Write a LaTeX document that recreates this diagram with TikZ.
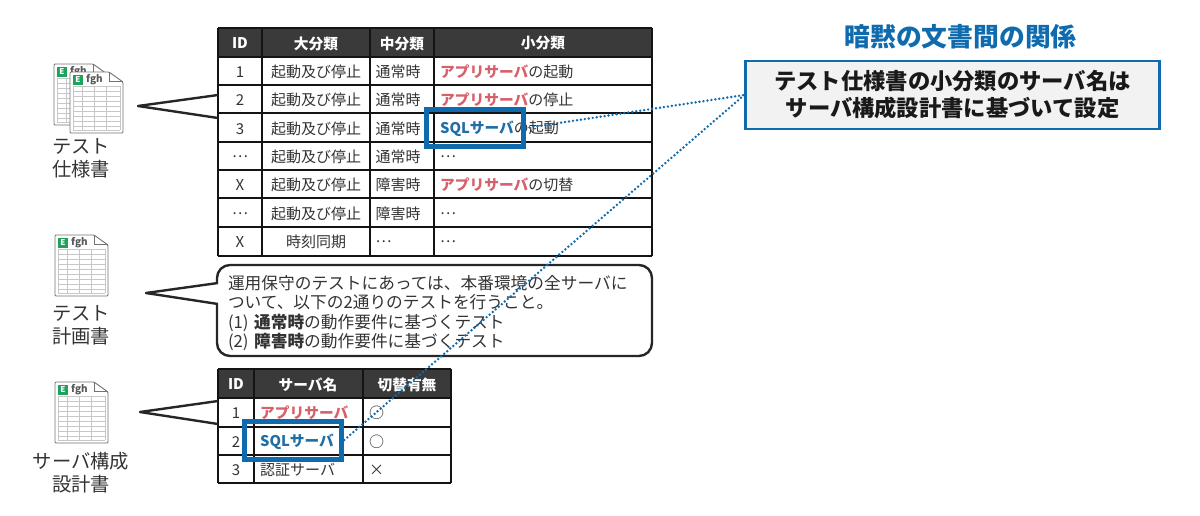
\documentclass[tikz,border=0pt]{standalone}
\usepackage{fontspec}
\setmainfont{Noto Sans CJK JP}
\usepackage{tikz}
\usetikzlibrary{positioning, calc}
\definecolor{inkdark}{HTML}{333333}
\definecolor{headdark}{HTML}{3A3A3A}
\definecolor{linkblue}{HTML}{0F6BAE}
\definecolor{sqlblue}{HTML}{1F6FA6}
\definecolor{appred}{HTML}{D8606A}
\definecolor{sheetgreen}{HTML}{1FA35C}
\definecolor{notegray}{HTML}{F2F2F2}
\newcommand{\appsrv}{{\fontsize{14.7}{15}\selectfont\bfseries\color{appred}アプリサーバ}}
\newcommand{\sqlsrv}{{\fontsize{14.7}{15}\selectfont\bfseries\color{sqlblue}SQLサーバ}}
\tikzset{
    sheetgrid/.style={draw=black!22, line width=0.5pt},
    sheetedge/.style={draw=black!55, line width=0.9pt, rounded corners=1pt, fill=white},
    sheeticon/.pic={
        \draw[sheetedge] (0,0) -- (39,0) -- (53,10) -- (53,61) -- (0,61) -- cycle;
        \draw[draw=black!55, line width=0.8pt] (39,0) -- (39,9) -- (53,9);
        \node[fill=sheetgreen, text=white, inner sep=0pt, minimum size=10pt, font=\fontsize{8}{8}\selectfont\bfseries] (-mark) at (8,8) {E};
        \node[text=black!65, inner sep=0pt, anchor=west, font=\fontsize{10}{10}\selectfont\bfseries] (-title) at (16,7.5) {fgh};
        \foreach \gridy in {14,19,24,29,34,39,44,49,54,58}
            \draw[sheetgrid] (3,\gridy) -- (50,\gridy);
        \foreach \gridx in {3,12,24,36,50}
            \draw[sheetgrid] (\gridx,14) -- (\gridx,58);
    },
    doclabel/.style={text=inkdark, align=center, font=\fontsize{19.3}{22.8}\selectfont},
    headcell/.style={text=white, inner sep=0pt, yshift=-0.5pt, font=\fontsize{14.7}{15}\selectfont\bfseries},
    bodycell/.style={text=inkdark, inner sep=0pt, yshift=-1pt, font=\fontsize{15}{15}\selectfont},
    leftcell/.style={bodycell, anchor=west},
    tablerule/.style={draw=black!92, line width=1.5pt},
    tailline/.style={draw=black!85, line width=2.4pt, line join=round},
    pickbox/.style={draw=linkblue, line width=5pt, inner sep=0pt},
    linkdots/.style={draw=linkblue, line width=2.7pt, line cap=round, dash pattern=on 0pt off 4pt},
}
\begin{document}
\begin{tikzpicture}[x=1pt, y=-1pt]
    \useasboundingbox (0,0) rectangle (1200,515);

    % document icons
    \pic (specback) at (54,64) {sheeticon};
    \pic (specfront) at (70,72) {sheeticon};
    \pic (planicon) at (55,235) {sheeticon};
    \pic (srvicon) at (55,382) {sheeticon};
    \node[doclabel] (speclabel) at (81,158) {テスト\\仕様書};
    \node[doclabel] (planlabel) at (81,325.5) {テスト\\計画書};
    \node[doclabel] (srvlabel) at (81,472.5) {サーバ構成\\設計書};

    % test spec table
    \fill[headdark] (218,28) rectangle (652,57);
    \foreach \ruley in {28,57,85,113,142,170,198,227,256}
        \draw[tablerule] (218,\ruley) -- (652,\ruley);
    \foreach \rulex in {218,262,370,434,652}
        \draw[tablerule] (\rulex,28) -- (\rulex,256);
    \node[headcell] (spechid) at (240,43) {ID};
    \node[headcell] (spechmajor) at (316,43) {大分類};
    \node[headcell] (spechmiddle) at (402,43) {中分類};
    \node[headcell] (spechminor) at (543,43) {小分類};
    \foreach \rowy/\rowid/\major/\middle/\minor [count=\rowno] in {
        71/1/起動及び停止/通常時/{\appsrv{}の起動},
        99/2/起動及び停止/通常時/{\appsrv{}の停止},
        128/3/起動及び停止/通常時/{\sqlsrv{}の起動},
        156/…/起動及び停止/通常時/…,
        184/X/起動及び停止/障害時/{\appsrv{}の切替},
        213/…/起動及び停止/障害時/…,
        241/X/時刻同期/…/…}
    {
        \node[bodycell] (specid\rowno) at (240,\rowy) {\rowid};
        \node[bodycell] (specmajor\rowno) at (316,\rowy) {\major};
        \node[leftcell] (specmiddle\rowno) at (375.5,\rowy) {\middle};
        \node[leftcell] (specminor\rowno) at (440,\rowy) {\minor};
    }

    % test plan callout
    \node[draw=black!85, line width=2.4pt, rounded corners=13pt, fill=white, minimum width=435pt, minimum height=91pt] (plannote) at (434.5,310.5) {};
    \node[text width=413pt, align=left, text=inkdark, inner sep=0pt, font=\fontsize{16.7}{19.4}\selectfont] (plantext) at (434.5,313)
        {運用保守のテストにあっては、本番環境の全サーバに\\ついて、以下の2通りのテストを行うこと。\\(1) {\bfseries 通常時}の動作要件に基づくテスト\\(2) {\bfseries 障害時}の動作要件に基づくテスト};
    \coordinate (plantip) at (146,293);
    \fill[white] (219,283) -- (plantip) -- (219,304) -- cycle;
    \draw[tailline] (218,283) -- (plantip) -- (218,304);

    % server table
    \fill[headdark] (218,369) rectangle (451,398);
    \foreach \ruley in {369,398,427,455,483}
        \draw[tablerule] (218,\ruley) -- (451,\ruley);
    \foreach \rulex in {218,254,363,451}
        \draw[tablerule] (\rulex,369) -- (\rulex,483);
    \node[headcell] (srvhid) at (236,384) {ID};
    \node[headcell] (srvhname) at (308,384) {サーバ名};
    \node[headcell] (srvhswitch) at (407,384) {切替有無};
    \foreach \rowy/\rowid/\srvname/\switch [count=\rowno] in {
        412/1/\appsrv/○,
        441/2/\sqlsrv/○,
        469/3/認証サーバ/×}
    {
        \node[bodycell] (srvid\rowno) at (236,\rowy) {\rowid};
        \node[leftcell] (srvname\rowno) at (260,\rowy) {\srvname};
        \node[leftcell] (srvswitch\rowno) at (369,\rowy) {\switch};
    }

    % tails from the icons
    \coordinate (spectip) at (138,106);
    \coordinate (srvtip) at (140,412);
    \draw[tailline] (218,95) -- (spectip) -- (218,118);
    \draw[tailline] (218,401) -- (srvtip) -- (218,424);

    % implicit relation note
    \node[text=linkblue, font=\fontsize{25.8}{26}\selectfont\bfseries] (reltitle) at (960.5,37) {暗黙の文書間の関係};
    \node[draw=linkblue, line width=2.5pt, fill=notegray, minimum width=414pt, minimum height=68pt, align=center,
        text=black!90, inner sep=0pt, font=\fontsize{22.3}{27}\selectfont\bfseries] (relnote) at (952.5,95)
        {テスト仕様書の小分類のサーバ名は\\サーバ構成設計書に基づいて設定};

    % highlighted server names
    \node[pickbox, minimum width=97pt, minimum height=37.5pt] (pickspec) at (474.5,128) {};
    \node[pickbox, minimum width=97.5pt, minimum height=38pt] (picksrv) at (293,440) {};
    \draw[linkdots] (pickspec.east) -- (relnote.west);
    \draw[linkdots] (picksrv.east) -- (relnote.west);
\end{tikzpicture}
\end{document}
